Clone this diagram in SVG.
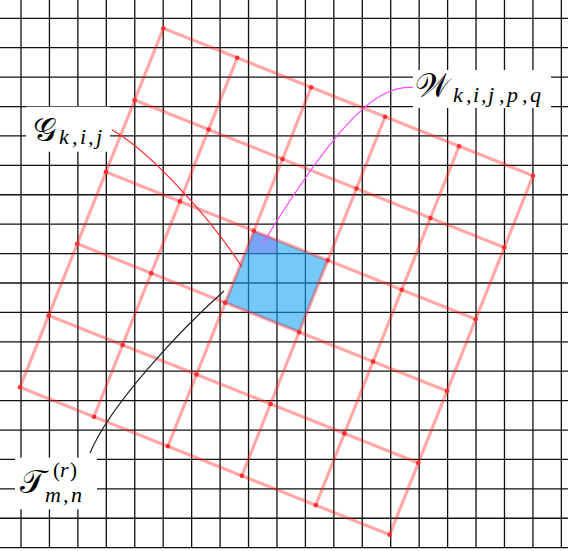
<svg xmlns="http://www.w3.org/2000/svg" width="568" height="551" viewBox="0 0 568 551">
<defs>
<style>
.bg{fill:#ffffff}
.grid{stroke:#111;stroke-width:1.3;fill:none}
.rl{stroke:#ff1a1a;stroke-opacity:0.38;stroke-width:3.2;fill:none}
.dot{fill:#ff2e2e}
.lbl{fill:#ffffff}
.cal{font-family:"DejaVu Serif","DejaVu Sans","Noto Sans",serif;font-size:33px;font-style:normal}
.it{font-family:"Liberation Serif","DejaVu Serif",serif;font-style:italic;font-size:22px}
.up{font-family:"Liberation Serif","DejaVu Serif",serif;font-style:normal;font-size:21px}
text{fill:#000}
</style>
<filter id="soft" x="-5%" y="-5%" width="110%" height="110%"><feGaussianBlur stdDeviation="0.6"/></filter>
</defs>
<rect class="bg" x="0" y="0" width="568" height="551"/>
<g id="pixel-grid">
<path class="grid" d="M21,0V548M49.44,0V548M77.88,0V548M106.32,0V548M134.76,0V548M163.2,0V548M191.64,0V548M220.08,0V548M248.52,0V548M276.96,0V548M305.4,0V548M333.84,0V548M362.28,0V548M390.72,0V548M419.16,0V548M447.6,0V548M476.04,0V548M504.48,0V548M532.92,0V548M561.36,0V548"/>
<path class="grid" d="M0,18.3H568M0,47.71H568M0,77.12H568M0,106.53H568M0,135.94H568M0,165.35H568M0,194.76H568M0,224.17H568M0,253.58H568M0,282.99H568M0,312.4H568M0,341.81H568M0,371.22H568M0,400.63H568M0,430.04H568M0,459.45H568M0,488.86H568M0,518.27H568M0,547.68H568"/>
</g>
<g id="tile">
<polygon points="253.86,230.86 327.8,260.34 299.14,332.14 225.2,302.66" fill="#1aa3f3" fill-opacity="0.6"/>
<polygon points="253.86,230.86 276.96,240.07 276.96,253.58 248.52,253.58 248.52,244.24" fill="#8060f0" fill-opacity="0.35"/>
</g>
<g id="rotated-grid" filter="url(#soft)">
<path class="rl" d="M163.3,28.3L533,175.7M134.64,100.1L504.34,247.5M105.98,171.9L475.68,319.3M77.32,243.7L447.02,391.1M48.66,315.5L418.36,462.9M20,387.3L389.7,534.7"/>
<path class="rl" d="M163.3,28.3L20,387.3M237.24,57.78L93.94,416.78M311.18,87.26L167.88,446.26M385.12,116.74L241.82,475.74M459.06,146.22L315.76,505.22M533,175.7L389.7,534.7"/>
<g class="dot">
<circle cx="163.3" cy="28.3" r="2.3"/><circle cx="237.24" cy="57.78" r="2.3"/><circle cx="311.18" cy="87.26" r="2.3"/><circle cx="385.12" cy="116.74" r="2.3"/><circle cx="459.06" cy="146.22" r="2.3"/><circle cx="533" cy="175.7" r="2.3"/>
<circle cx="134.64" cy="100.1" r="2.3"/><circle cx="208.58" cy="129.58" r="2.3"/><circle cx="282.52" cy="159.06" r="2.3"/><circle cx="356.46" cy="188.54" r="2.3"/><circle cx="430.4" cy="218.02" r="2.3"/><circle cx="504.34" cy="247.5" r="2.3"/>
<circle cx="105.98" cy="171.9" r="2.3"/><circle cx="179.92" cy="201.38" r="2.3"/><circle cx="253.86" cy="230.86" r="2.3"/><circle cx="327.8" cy="260.34" r="2.3"/><circle cx="401.74" cy="289.82" r="2.3"/><circle cx="475.68" cy="319.3" r="2.3"/>
<circle cx="77.32" cy="243.7" r="2.3"/><circle cx="151.26" cy="273.18" r="2.3"/><circle cx="225.2" cy="302.66" r="2.3"/><circle cx="299.14" cy="332.14" r="2.3"/><circle cx="373.08" cy="361.62" r="2.3"/><circle cx="447.02" cy="391.1" r="2.3"/>
<circle cx="48.66" cy="315.5" r="2.3"/><circle cx="122.6" cy="344.98" r="2.3"/><circle cx="196.54" cy="374.46" r="2.3"/><circle cx="270.48" cy="403.94" r="2.3"/><circle cx="344.42" cy="433.42" r="2.3"/><circle cx="418.36" cy="462.9" r="2.3"/>
<circle cx="20" cy="387.3" r="2.3"/><circle cx="93.94" cy="416.78" r="2.3"/><circle cx="167.88" cy="446.26" r="2.3"/><circle cx="241.82" cy="475.74" r="2.3"/><circle cx="315.76" cy="505.22" r="2.3"/><circle cx="389.7" cy="534.7" r="2.3"/>
</g>
</g>
<g id="connectors" fill="none" stroke-width="1.2">
<path d="M112,130C145,148 205,210 242,267" stroke="#ff2a2a"/>
<path d="M413,87.5C380,86 345,110 263,243" stroke="#ff45ff"/>
<path d="M90,453C110,405 180,330 224,291" stroke="#222"/>
</g>
<g id="label-G">
<rect class="lbl" x="26" y="106.7" width="84" height="45"/>
<text x="33" y="141"><tspan class="cal">𝒢</tspan><tspan class="it" x="59" y="143.5">k</tspan><tspan class="it" x="72" y="143.5">,</tspan><tspan class="it" x="80" y="143.5">i</tspan><tspan class="it" x="88" y="143.5">,</tspan><tspan class="it" x="96" y="143.5">j</tspan></text>
</g>
<g id="label-W">
<rect class="lbl" x="413" y="70" width="138" height="38"/>
<text x="415" y="97"><tspan class="cal">𝒲</tspan><tspan class="it" x="453" y="101.5">k</tspan><tspan class="it" x="466" y="101.5">,</tspan><tspan class="it" x="473" y="101.5">i</tspan><tspan class="it" x="481" y="101.5">,</tspan><tspan class="it" x="488" y="101.5">j</tspan><tspan class="it" x="499" y="101.5">,</tspan><tspan class="it" x="507" y="101.5">p</tspan><tspan class="it" x="522" y="101.5">,</tspan><tspan class="it" x="530" y="101.5">q</tspan></text>
</g>
<g id="label-T">
<rect class="lbl" x="15" y="457.7" width="82" height="51.6"/>
<text x="20" y="493"><tspan class="cal" font-size="32">𝒯</tspan><tspan class="up" x="53" y="477">(</tspan><tspan class="it" x="60" y="477">r</tspan><tspan class="up" x="70" y="477">)</tspan><tspan class="it" x="45" y="502">m</tspan><tspan class="it" x="63" y="502">,</tspan><tspan class="it" x="71" y="502">n</tspan></text>
</g>
</svg>
